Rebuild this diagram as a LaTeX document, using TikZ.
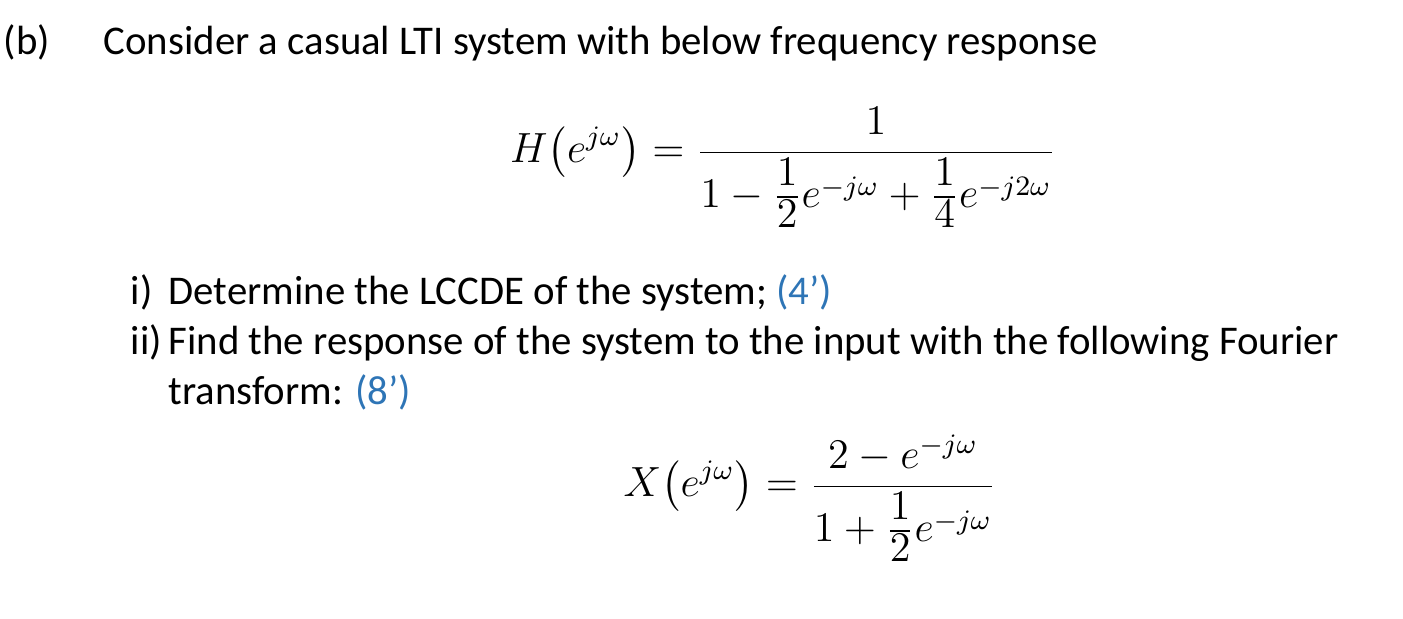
\documentclass[tikz,border=0pt]{standalone}
\usepackage{amsmath}
\usepackage{fontspec}
\setmainfont{Carlito}
\definecolor{ptblue}{RGB}{46,117,182}
\newcommand{\smfrac}[2]{\tfrac{\raisebox{1.5pt}{$\textstyle #1$}}{\raisebox{-1.5pt}{$\textstyle #2$}}}
\begin{document}
\begin{tikzpicture}[x=0.01cm,y=-0.01cm,
  txt/.style={anchor=base west,inner sep=0pt,font=\fontsize{11.6pt}{14pt}\selectfont},
  eq/.style={anchor=base,inner sep=0pt,font=\fontsize{12pt}{14pt}\selectfont}]
\useasboundingbox (0,0) rectangle (1403,619);
\node[txt] (b) at (3,55) {(b)};
\node[txt] (l1) at (103,55) {Consider a casual LTI system with below frequency response};
\node[eq] (H) at (783,163) {$\displaystyle H\bigl(e^{j\omega}\bigr)=\frac{1}{1-\smfrac{1}{2}e^{-j\omega}+\smfrac{1}{4}e^{-j2\omega}}$};
\node[txt] (i) at (130,305) {i)};
\node[txt] (l2) at (168,305) {Determine the LCCDE of the system; \textcolor{ptblue}{(4’)}};
\node[txt] (ii) at (130,355) {ii)};
\node[txt] (l3) at (168,355) {Find the response of the system to the input with the following Fourier};
\node[txt] (l4) at (168,405) {transform: \textcolor{ptblue}{(8’)}};
\node[eq] (X) at (810,497) {$\displaystyle X\bigl(e^{j\omega}\bigr)=\frac{2-e^{-j\omega}}{1+\smfrac{1}{2}e^{-j\omega}}$};
\end{tikzpicture}
\end{document}
